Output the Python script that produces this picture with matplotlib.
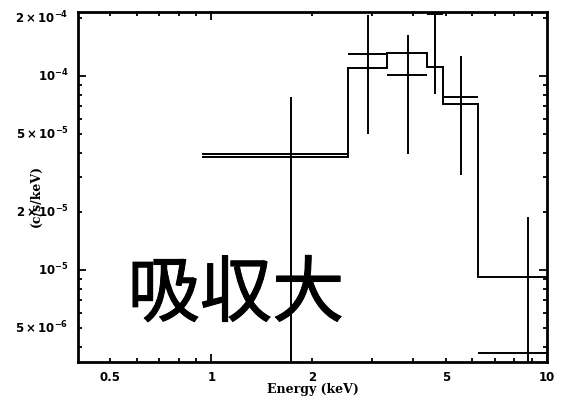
import numpy as np
import matplotlib
matplotlib.use("Agg")
import matplotlib.pyplot as plt
import matplotlib.patheffects as pe
from matplotlib.ticker import FixedLocator, NullFormatter

# ---- data ----
bin_lo   = [0.94, 2.55, 3.33, 4.38, 4.89, 6.22]
bin_hi   = [2.55, 3.33, 4.38, 4.89, 6.22, 10.0]
e_center = [1.73, 2.92, 3.85, 4.63, 5.54, 8.78]
rate     = [3.96e-5, 1.30e-4, 1.01e-4, 2.09e-4, 7.8e-5, 3.73e-6]
rate_hi  = [7.8e-5, 2.06e-4, 1.63e-4, 2.3e-4, 1.27e-4, 1.87e-5]
rate_lo  = [1.0e-6, 5.03e-5, 3.96e-5, 8.1e-5, 3.09e-5, 1.0e-6]

model_edges = [0.94, 2.55, 3.33, 4.38, 4.89, 6.22, 10.0]
model_vals  = [3.82e-5, 1.10e-4, 1.31e-4, 1.11e-4, 7.17e-5, 9.2e-6]

xtick_vals = [0.5, 1, 2, 5, 10]
xtick_labs = ["0.5", "1", "2", "5", "10"]
ytick_vals = [5e-6, 1e-5, 2e-5, 5e-5, 1e-4, 2e-4]
ytick_labs = [r"$5\times10^{-6}$", r"$10^{-5}$", r"$2\times10^{-5}$",
              r"$5\times10^{-5}$", r"$10^{-4}$", r"$2\times10^{-4}$"]

plt.rcParams["mathtext.fontset"] = "dejavusans"
plt.rcParams["mathtext.default"] = "bf"
fig = plt.figure(figsize=(5.65, 3.99), dpi=100)
ax = fig.add_axes([0.138, 0.093, 0.830, 0.877])

c = np.array(e_center)
r = np.array(rate)
xerr = [c - np.array(bin_lo), np.array(bin_hi) - c]
yerr = [r - np.array(rate_lo), np.array(rate_hi) - r]
ax.errorbar(c, r, xerr=xerr, yerr=yerr, fmt="none", ecolor="black",
            elinewidth=1.4, capsize=0)
ax.stairs(model_vals, model_edges, baseline=None, color="black", lw=1.4)

ax.set_xscale("log")
ax.set_yscale("log")
ax.set_xlim(0.4, 10.0)
ax.set_ylim(3.36e-6, 2.14e-4)

# ticks: decades long, others short, all inward on four sides
ax.xaxis.set_major_locator(FixedLocator([1, 10]))
ax.xaxis.set_minor_locator(FixedLocator([0.5, 0.6, 0.7, 0.8, 0.9, 2, 3, 4, 5, 6, 7, 8, 9]))
ax.xaxis.set_major_formatter(NullFormatter())
ax.xaxis.set_minor_formatter(NullFormatter())
ax.yaxis.set_major_locator(FixedLocator([1e-5, 1e-4]))
ax.yaxis.set_minor_locator(FixedLocator([4e-6, 5e-6, 6e-6, 7e-6, 8e-6, 9e-6,
                                         2e-5, 3e-5, 4e-5, 5e-5, 6e-5, 7e-5, 8e-5, 9e-5, 2e-4]))
ax.yaxis.set_major_formatter(NullFormatter())
ax.yaxis.set_minor_formatter(NullFormatter())
ax.tick_params(which="both", direction="in", top=True, right=True, width=1.3, colors="black")
ax.tick_params(which="major", length=6)
ax.tick_params(which="minor", length=3)

for s in ax.spines.values():
    s.set_linewidth(2)

lab_font = dict(fontsize=8.5, fontweight="bold", family="DejaVu Sans")
for v, t in zip(xtick_vals, xtick_labs):
    ax.text(v, -0.025, t, transform=ax.get_xaxis_transform(), ha="center", va="top", **lab_font)
for v, t in zip(ytick_vals, ytick_labs):
    ax.text(-0.02, v, t, transform=ax.get_yaxis_transform(), ha="right", va="center", **lab_font)

ax.set_xlabel("Energy (keV)", fontsize=9, fontweight="bold", family="DejaVu Serif", labelpad=12)
fig.text(0.064, 0.51, "(c/s/keV)", rotation=90, ha="center", va="center",
         fontsize=9, fontweight="bold", family="DejaVu Serif")

big = ax.text(0.337, 0.19, "吸収大", transform=ax.transAxes, ha="center", va="center",
              fontsize=52, fontweight="normal", family=["Noto Sans CJK JP", "DejaVu Sans"])
big.set_path_effects([pe.withStroke(linewidth=0.7, foreground="black")])

fig.savefig("out.png", dpi=100)
